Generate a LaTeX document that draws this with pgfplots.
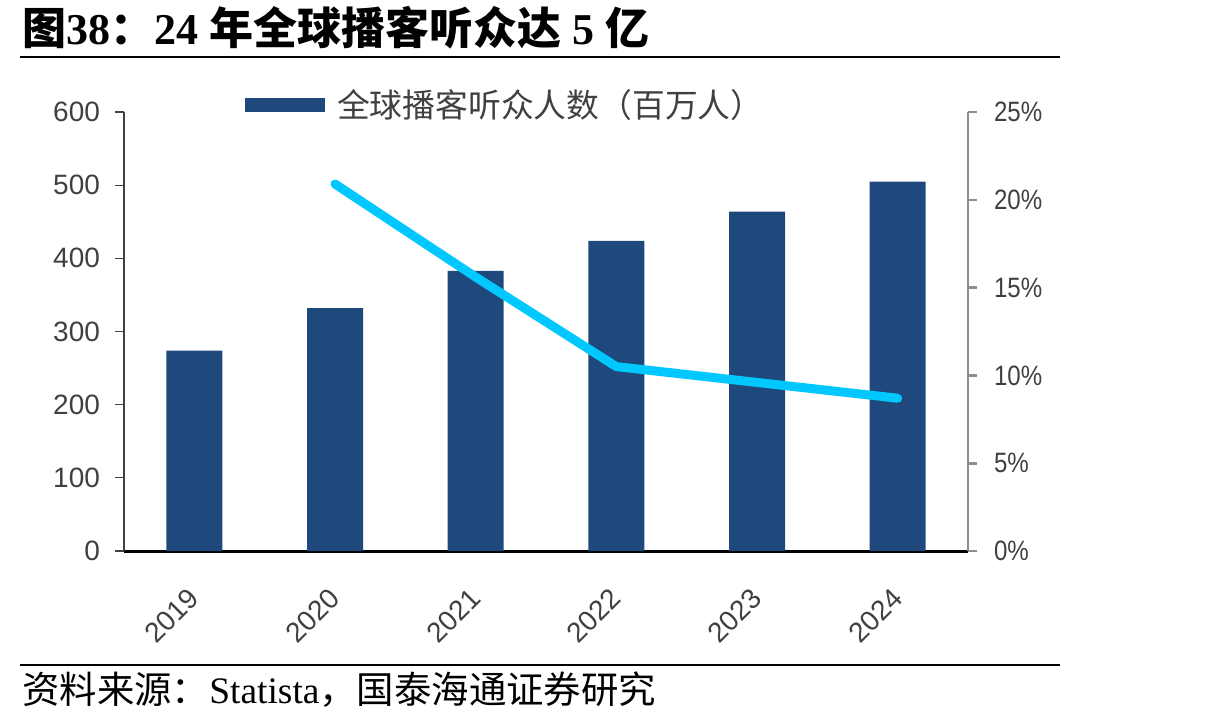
\documentclass[border=0pt]{standalone}
\usepackage{graphicx}
\usepackage{pgfplots}
\pgfplotsset{compat=1.18}
\usepackage{fontspec}
\setmainfont{Liberation Serif}
\newfontfamily\cjk{Noto Sans CJK SC}
\newfontfamily\arial{Liberation Sans}
\definecolor{barblue}{HTML}{1F497D}
\definecolor{linecyan}{HTML}{00C8FF}
\definecolor{txtgray}{HTML}{404040}
\definecolor{axgray}{HTML}{8E8E8E}
\begin{document}
\begin{tikzpicture}
\path[use as bounding box] (0pt,0pt) rectangle (607.5pt,362.5pt);
\node[anchor=west, inner sep=0pt] at (11pt,348.5pt) {\fontsize{22}{26}\selectfont{\cjk\bfseries 图}\textbf{38}{\cjk\bfseries ：}\textbf{24} {\cjk\bfseries 年全球播客听众达} \textbf{5} {\cjk\bfseries 亿}};
\draw[line width=1pt] (10pt,334pt) -- (530pt,334pt);
\draw[line width=1pt] (10pt,30pt) -- (530pt,30pt);
\node[anchor=west, inner sep=0pt] at (11pt,17.5pt) {\fontsize{18.7}{20}\selectfont{\cjk 资料来源：}Statista{\cjk ，国泰海通证券研究}};
\begin{axis}[
 at={(62pt,87pt)}, anchor=south west, scale only axis, width=422pt, height=219.5pt,
 xmin=-0.5, xmax=5.5, ymin=0, ymax=600,
 axis x line*=bottom, axis y line*=left,
 x axis line style={-, black, line width=1.5pt},
 y axis line style={-, txtgray, line width=0.6pt},
 xtick={0,...,5}, xticklabels={2019,2020,2021,2022,2023,2024},
 x tick style={draw=none},
 ytick={0,100,...,600},
 y tick style={txtgray, line width=0.6pt},
 tick align=outside, major tick length=4.5pt,
 ticklabel style={font=\arial\fontsize{14}{14}\selectfont, text=txtgray},
 /pgf/number format/assume math mode=true,
 xticklabel style={yshift=-16.5pt, rotate=45, anchor=east, inner sep=0pt},
 yticklabel style={xshift=-4pt},
 ybar, bar width=28pt,
 legend style={at={(0.143,1.016)}, anchor=west, draw=none, fill=none, inner sep=0pt, font=\cjk\fontsize{16.4}{16.4}\selectfont, text=txtgray, /tikz/every odd column/.append style={column sep=4pt}},
 legend image code/.code={\fill[barblue] (0pt,-3.5pt) rectangle (40pt,3.5pt);},
]
\addplot[fill=barblue, draw=none] coordinates {(0,274) (1,332) (2,383) (3,424) (4,464) (5,505)};
\addlegendentry{全球播客听众人数（百万人）}
\end{axis}
\begin{axis}[
 at={(62pt,87pt)}, anchor=south west, scale only axis, width=422pt, height=219.5pt,
 xmin=-0.5, xmax=5.5, ymin=0, ymax=25,
 axis x line=none, axis y line*=right,
 ytick pos=right, yticklabel pos=right,
 y axis line style={-, axgray, line width=1.3pt},
 ytick={0,5,...,25}, y tick style={axgray, line width=1.3pt},
 tick align=outside, major tick length=4.5pt,
 /pgf/number format/assume math mode=true,
 yticklabel={\scalebox{0.86}[1]{\pgfmathprintnumber{\tick}\%}},
 yticklabel style={font=\arial\fontsize{14}{14}\selectfont, text=txtgray, xshift=5pt},
]
\addplot[linecyan, line width=4.5pt, line cap=round, line join=round] coordinates {(1,20.9) (2,15.6) (3,10.5) (4,9.6) (5,8.7)};
\end{axis}
\end{tikzpicture}
\end{document}
